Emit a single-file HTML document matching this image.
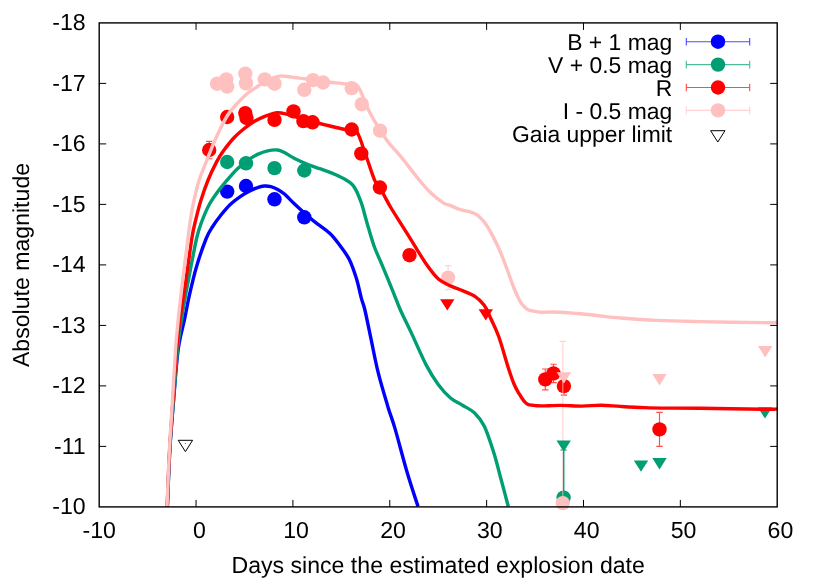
<!DOCTYPE html>
<html><head><meta charset="utf-8"><title>Light curves</title>
<style>html,body{margin:0;padding:0;background:#fff}body{width:830px;height:581px;overflow:hidden;font-family:"Liberation Sans",sans-serif}</style>
</head><body>
<svg width="830" height="581" viewBox="0 0 830 581" style="display:block;will-change:transform">
<rect width="830" height="581" fill="#ffffff"/>
<defs><clipPath id="c"><rect x="99.2" y="22.9" width="678.0" height="485.0"/></clipPath></defs>
<path d="M196.06,506.90 v-7 M196.06,22.90 v7 M292.91,506.90 v-7 M292.91,22.90 v7 M389.77,506.90 v-7 M389.77,22.90 v7 M486.63,506.90 v-7 M486.63,22.90 v7 M583.49,506.90 v-7 M583.49,22.90 v7 M680.34,506.90 v-7 M680.34,22.90 v7 M99.20,83.40 h7 M777.20,83.40 h-7 M99.20,143.90 h7 M777.20,143.90 h-7 M99.20,204.40 h7 M777.20,204.40 h-7 M99.20,264.90 h7 M777.20,264.90 h-7 M99.20,325.40 h7 M777.20,325.40 h-7 M99.20,385.90 h7 M777.20,385.90 h-7 M99.20,446.40 h7 M777.20,446.40 h-7" stroke="#000" stroke-width="1.0" fill="none"/>
<g font-family="'Liberation Sans', sans-serif" font-size="23.10px" fill="#000" text-rendering="geometricPrecision">
<text x="99.2" y="537.6" text-anchor="middle">-10</text>
<text x="199.3" y="537.6" text-anchor="middle">0</text>
<text x="296.1" y="537.6" text-anchor="middle">10</text>
<text x="393.0" y="537.6" text-anchor="middle">20</text>
<text x="489.8" y="537.6" text-anchor="middle">30</text>
<text x="586.7" y="537.6" text-anchor="middle">40</text>
<text x="683.5" y="537.6" text-anchor="middle">50</text>
<text x="780.4" y="537.6" text-anchor="middle">60</text>
<text x="85.7" y="30.2" text-anchor="end">-18</text>
<text x="85.7" y="90.7" text-anchor="end">-17</text>
<text x="85.7" y="151.2" text-anchor="end">-16</text>
<text x="85.7" y="211.7" text-anchor="end">-15</text>
<text x="85.7" y="272.2" text-anchor="end">-14</text>
<text x="85.7" y="332.7" text-anchor="end">-13</text>
<text x="85.7" y="393.2" text-anchor="end">-12</text>
<text x="85.7" y="453.7" text-anchor="end">-11</text>
<text x="85.7" y="514.2" text-anchor="end">-10</text>
<text x="438.2" y="572.6" text-anchor="middle">Days since the estimated explosion date</text>
<text transform="translate(29.2,265.0) rotate(-90)" text-anchor="middle">Absolute magnitude</text>
<text x="672.2" y="49.9" text-anchor="end" font-size="22.9px">B + 1 mag</text>
<text x="672.2" y="72.8" text-anchor="end" font-size="22.9px">V + 0.5 mag</text>
<text x="672.2" y="95.7" text-anchor="end" font-size="22.9px">R</text>
<text x="672.2" y="118.6" text-anchor="end" font-size="22.9px">I - 0.5 mag</text>
<text x="672.2" y="142.1" text-anchor="end" font-size="22.9px">Gaia upper limit</text>
</g>
<path d="M686.3,41.7 H749.7 M686.3,37.9 v7.6 M749.7,37.9 v7.6" stroke="#0000ff" stroke-width="1.15" stroke-opacity="0.7" fill="none"/>
<circle cx="718.0" cy="41.7" r="7.2" fill="#0000ff"/>
<path d="M686.3,64.6 H749.7 M686.3,60.8 v7.6 M749.7,60.8 v7.6" stroke="#009e73" stroke-width="1.15" stroke-opacity="0.7" fill="none"/>
<circle cx="718.0" cy="64.6" r="7.2" fill="#009e73"/>
<path d="M686.3,87.5 H749.7 M686.3,83.7 v7.6 M749.7,83.7 v7.6" stroke="#ff0000" stroke-width="1.15" stroke-opacity="0.7" fill="none"/>
<circle cx="718.0" cy="87.5" r="7.2" fill="#ff0000"/>
<path d="M686.3,110.4 H749.7 M686.3,106.6 v7.6 M749.7,106.6 v7.6" stroke="#ffc0c0" stroke-width="1.15" stroke-opacity="0.7" fill="none"/>
<circle cx="718.0" cy="110.4" r="7.2" fill="#ffc0c0"/>
<polygon points="710.6,130.7 725.0,130.7 717.8,142.0" fill="none" stroke="#000" stroke-width="1"/>
<g clip-path="url(#c)">
<circle cx="227.2" cy="191.6" r="7.2" fill="#0000ff"/>
<circle cx="246.0" cy="186.0" r="7.2" fill="#0000ff"/>
<circle cx="274.5" cy="199.3" r="7.2" fill="#0000ff"/>
<circle cx="304.3" cy="217.3" r="7.2" fill="#0000ff"/>
<circle cx="227.2" cy="162.0" r="7.2" fill="#009e73"/>
<circle cx="246.0" cy="163.3" r="7.2" fill="#009e73"/>
<circle cx="274.5" cy="168.1" r="7.2" fill="#009e73"/>
<circle cx="304.3" cy="170.5" r="7.2" fill="#009e73"/>
<path d="M563.6,450.0 V497.6 M560.4,450.0 H566.8" stroke="#009e73" stroke-width="1.45" stroke-opacity="0.7" fill="none"/>
<circle cx="563.6" cy="497.6" r="7.2" fill="#009e73"/>
<path d="M209.2,141.3 V158.7 M206.0,141.3 H212.4 M206.0,158.7 H212.4" stroke="#ff0000" stroke-width="1.15" stroke-opacity="0.7" fill="none"/>
<circle cx="209.2" cy="150.0" r="7.2" fill="#ff0000"/>
<circle cx="227.2" cy="117.0" r="7.2" fill="#ff0000"/>
<circle cx="245.3" cy="113.1" r="7.2" fill="#ff0000"/>
<circle cx="246.5" cy="118.0" r="7.2" fill="#ff0000"/>
<circle cx="274.5" cy="119.9" r="7.2" fill="#ff0000"/>
<circle cx="293.5" cy="111.4" r="7.2" fill="#ff0000"/>
<circle cx="303.4" cy="121.1" r="7.2" fill="#ff0000"/>
<circle cx="312.5" cy="122.3" r="7.2" fill="#ff0000"/>
<circle cx="351.7" cy="129.5" r="7.2" fill="#ff0000"/>
<circle cx="361.3" cy="153.6" r="7.2" fill="#ff0000"/>
<circle cx="379.9" cy="187.5" r="7.2" fill="#ff0000"/>
<circle cx="409.5" cy="255.2" r="7.2" fill="#ff0000"/>
<path d="M545.3,369.0 V389.8 M542.1,369.0 H548.5 M542.1,389.8 H548.5" stroke="#ff0000" stroke-width="1.15" stroke-opacity="0.7" fill="none"/>
<circle cx="545.3" cy="379.4" r="7.2" fill="#ff0000"/>
<path d="M553.5,364.2 V382.6 M550.3,364.2 H556.7 M550.3,382.6 H556.7" stroke="#ff0000" stroke-width="1.15" stroke-opacity="0.7" fill="none"/>
<circle cx="553.5" cy="373.4" r="7.2" fill="#ff0000"/>
<path d="M563.9,377.1 V395.1 M560.7,377.1 H567.1 M560.7,395.1 H567.1" stroke="#ff0000" stroke-width="1.15" stroke-opacity="0.7" fill="none"/>
<circle cx="563.9" cy="386.1" r="7.2" fill="#ff0000"/>
<path d="M659.5,412.4 V446.4 M656.3,412.4 H662.7 M656.3,446.4 H662.7" stroke="#ff0000" stroke-width="1.15" stroke-opacity="0.7" fill="none"/>
<circle cx="659.5" cy="429.4" r="7.2" fill="#ff0000"/>
<circle cx="217.1" cy="83.7" r="7.2" fill="#ffc0c0"/>
<circle cx="226.3" cy="79.4" r="7.2" fill="#ffc0c0"/>
<circle cx="227.2" cy="86.6" r="7.2" fill="#ffc0c0"/>
<circle cx="245.3" cy="73.6" r="7.2" fill="#ffc0c0"/>
<circle cx="246.0" cy="83.3" r="7.2" fill="#ffc0c0"/>
<circle cx="264.8" cy="79.4" r="7.2" fill="#ffc0c0"/>
<circle cx="274.5" cy="83.7" r="7.2" fill="#ffc0c0"/>
<circle cx="304.3" cy="89.8" r="7.2" fill="#ffc0c0"/>
<circle cx="313.0" cy="80.1" r="7.2" fill="#ffc0c0"/>
<circle cx="323.1" cy="82.5" r="7.2" fill="#ffc0c0"/>
<circle cx="351.7" cy="88.1" r="7.2" fill="#ffc0c0"/>
<circle cx="361.8" cy="104.2" r="7.2" fill="#ffc0c0"/>
<circle cx="380.1" cy="130.7" r="7.2" fill="#ffc0c0"/>
<path d="M448.1,265.6 V289.6 M444.9,265.6 H451.3 M444.9,289.6 H451.3" stroke="#ffc0c0" stroke-width="1.15" stroke-opacity="0.7" fill="none"/>
<circle cx="448.1" cy="277.6" r="7.2" fill="#ffc0c0"/>
<path d="M562.8,341.4 V503.1 M559.6,341.4 H566.0" stroke="#ffc0c0" stroke-width="1.15" stroke-opacity="0.7" fill="none"/>
</g>
<circle cx="562.8" cy="503.1" r="7.2" fill="#ffc0c0"/>
<polygon points="556.5,440.4 570.9,440.4 563.7,451.7" fill="#009e73"/>
<polygon points="633.8,460.5 648.2,460.5 641.0,471.8" fill="#009e73"/>
<polygon points="652.3,458.1 666.7,458.1 659.5,469.4" fill="#009e73"/>
<polygon points="757.8,407.3 772.2,407.3 765.0,418.6" fill="#009e73"/>
<path d="M563.7,450 V491.5" stroke="#009e73" stroke-width="1.15" fill="none"/>
<polygon points="440.1,299.3 454.5,299.3 447.3,310.6" fill="#ff0000"/>
<polygon points="478.6,309.2 493.0,309.2 485.8,320.5" fill="#ff0000"/>
<polygon points="556.7,372.2 571.1,372.2 563.9,383.5" fill="#ffc0c0"/>
<polygon points="652.3,374.1 666.7,374.1 659.5,385.4" fill="#ffc0c0"/>
<polygon points="758.0,346.1 772.4,346.1 765.2,357.4" fill="#ffc0c0"/>
<polygon points="178.2,440.3 192.6,440.3 185.4,451.6" fill="none" stroke="#000" stroke-width="1"/>
<rect x="184.9" y="443.0" width="1" height="1" fill="#000" opacity="0.6"/>
<g clip-path="url(#c)" fill="none" stroke-width="3.4" stroke-linejoin="round" stroke-linecap="butt">
<path d="M167.4,506.5 C167.8,497.1 168.8,467.8 169.8,450.0 C170.8,432.2 172.2,416.7 173.6,400.0 C175.0,383.3 176.3,363.3 178.1,350.0 C179.9,336.7 182.5,329.1 184.4,320.0 C186.3,310.9 187.3,304.6 189.3,295.7 C191.3,286.8 193.7,276.2 196.5,266.7 C199.3,257.2 203.5,245.2 206.2,238.5 C208.9,231.8 210.2,230.4 212.7,226.5 C215.2,222.6 218.0,218.7 221.0,215.0 C224.0,211.3 227.2,207.4 230.5,204.3 C233.8,201.2 237.2,198.6 240.6,196.3 C244.0,194.0 247.9,191.9 250.7,190.5 C253.5,189.1 255.2,188.3 257.5,187.6 C259.8,186.8 262.0,186.2 264.2,186.0 C266.4,185.8 268.6,186.0 270.9,186.6 C273.1,187.2 275.4,188.2 277.7,189.4 C279.9,190.6 281.6,191.6 284.4,194.0 C287.2,196.4 291.2,200.9 294.6,204.1 C298.0,207.3 301.3,210.4 304.7,213.4 C308.1,216.4 310.6,218.5 314.8,221.8 C319.0,225.2 325.9,229.6 330.0,233.5 C334.1,237.4 336.4,240.8 339.6,245.1 C342.8,249.4 346.5,253.9 349.3,259.5 C352.1,265.1 354.5,272.4 356.5,278.8 C358.5,285.2 359.9,292.9 361.3,298.1 C362.7,303.3 363.3,303.2 364.9,310.0 C366.5,316.8 368.8,328.4 371.0,338.9 C373.2,349.3 375.4,361.4 378.2,372.7 C381.0,383.9 385.0,397.0 387.8,406.4 C390.6,415.8 391.9,417.9 395.1,428.9 C398.3,439.9 403.3,459.4 407.1,472.3 C410.9,485.2 416.2,500.8 418.0,506.5" stroke="#0000ff"/>
<path d="M167.3,506.5 C167.7,497.1 168.8,467.8 169.8,450.0 C170.8,432.2 172.2,416.7 173.5,400.0 C174.8,383.3 176.2,363.3 177.5,350.0 C178.8,336.7 179.6,331.5 181.4,320.0 C183.2,308.5 185.6,294.9 188.2,281.2 C190.8,267.5 194.4,247.9 196.7,238.0 C199.0,228.1 199.8,226.8 201.8,221.5 C203.8,216.2 206.0,210.8 208.5,206.0 C211.0,201.2 213.9,197.1 217.0,192.8 C220.1,188.5 223.7,184.2 227.1,180.2 C230.5,176.2 233.8,172.3 237.2,169.0 C240.6,165.7 243.9,163.0 247.3,160.6 C250.7,158.2 254.1,156.0 257.5,154.4 C260.9,152.8 264.2,151.5 267.6,150.8 C271.0,150.1 274.9,149.7 277.7,150.0 C280.5,150.3 281.6,151.2 284.4,152.6 C287.2,154.0 290.7,156.5 294.6,158.5 C298.5,160.5 303.8,162.8 308.0,164.5 C312.2,166.2 316.1,167.4 319.8,168.7 C323.5,170.0 327.1,171.2 330.0,172.3 C332.9,173.4 334.3,174.1 336.9,175.3 C339.4,176.5 342.9,178.1 345.3,179.5 C347.7,180.9 349.5,182.0 351.2,183.6 C352.9,185.2 354.1,186.9 355.4,189.0 C356.7,191.1 357.7,193.6 358.8,196.4 C359.9,199.2 361.1,202.1 362.2,205.6 C363.3,209.1 364.4,213.6 365.5,217.5 C366.6,221.4 367.3,224.2 368.9,229.3 C370.4,234.4 372.6,242.2 374.8,248.0 C377.0,253.8 378.8,257.2 381.8,264.3 C384.8,271.4 389.6,283.2 392.7,290.8 C395.8,298.4 397.2,302.8 400.4,310.0 C403.6,317.2 407.6,324.9 411.9,334.1 C416.2,343.3 422.0,357.0 426.4,365.4 C430.8,373.8 434.4,379.3 438.4,384.7 C442.4,390.1 446.5,394.6 450.5,398.0 C454.5,401.4 458.5,402.7 462.5,405.2 C466.5,407.7 471.0,409.5 474.6,413.0 C478.2,416.5 481.0,419.3 484.2,426.0 C487.4,432.7 491.1,444.1 493.9,453.0 C496.7,461.9 498.7,470.6 501.1,479.5 C503.5,488.4 507.1,502.0 508.3,506.5" stroke="#009e73"/>
<path d="M167.2,506.5 C167.6,497.1 168.6,467.8 169.6,450.0 C170.6,432.2 171.8,416.7 173.0,400.0 C174.2,383.3 175.4,363.3 176.5,350.0 C177.6,336.7 178.2,331.5 179.8,320.0 C181.4,308.5 183.8,294.9 185.8,281.2 C187.8,267.5 190.3,248.1 191.9,238.0 C193.5,227.9 194.0,227.1 195.5,220.9 C197.0,214.7 198.7,207.4 200.8,200.7 C202.9,194.0 205.3,187.0 207.9,180.5 C210.5,174.0 214.0,166.9 216.6,161.9 C219.2,156.9 220.8,154.6 223.7,150.6 C226.6,146.6 230.4,141.6 233.8,138.0 C237.2,134.4 240.6,131.6 244.0,128.8 C247.4,126.1 250.7,123.5 254.1,121.5 C257.5,119.5 260.8,118.0 264.2,116.6 C267.6,115.2 272.1,113.8 274.3,113.2 C276.6,112.6 276.0,112.6 277.7,112.7 C279.4,112.8 282.1,113.1 284.4,113.6 C286.6,114.1 287.8,114.5 291.2,115.5 C294.6,116.5 300.2,118.4 305.0,119.7 C309.8,121.0 315.6,122.5 319.8,123.5 C324.0,124.5 325.1,124.8 330.0,126.0 C334.9,127.2 344.8,129.4 349.3,130.4 C353.8,131.4 354.2,127.6 357.0,131.9 C359.8,136.2 363.2,148.0 366.1,156.0 C369.0,164.0 372.3,174.8 374.6,180.1 C376.9,185.4 377.3,183.3 379.9,187.7 C382.5,192.1 386.5,200.2 390.2,206.5 C393.9,212.8 398.3,219.4 402.3,225.8 C406.3,232.2 410.3,238.7 414.3,245.1 C418.3,251.5 422.4,258.6 426.4,264.3 C430.4,270.0 434.4,275.5 438.4,279.1 C442.4,282.7 446.5,284.0 450.5,285.9 C454.5,287.8 458.5,288.9 462.5,290.6 C466.5,292.3 471.0,293.8 474.6,296.2 C478.2,298.6 481.6,301.8 484.2,305.3 C486.8,308.8 487.8,312.0 490.2,317.2 C492.6,322.4 495.7,328.1 498.7,336.5 C501.7,344.9 505.8,359.9 508.3,367.8 C510.9,375.7 512.2,379.7 514.0,384.0 C515.8,388.3 517.4,390.8 519.1,393.7 C520.8,396.6 522.8,399.6 524.2,401.3 C525.6,403.1 526.2,403.5 527.6,404.2 C529.0,404.9 530.4,405.0 532.6,405.3 C534.9,405.6 536.5,405.9 541.1,405.9 C545.7,405.9 553.4,405.4 560.2,405.4 C567.0,405.4 575.1,406.1 581.9,406.1 C588.7,406.1 594.8,405.1 601.2,405.2 C607.6,405.2 613.3,406.0 620.5,406.4 C627.7,406.8 636.6,407.3 644.6,407.6 C652.6,407.9 659.5,408.0 668.7,408.1 C677.9,408.2 684.0,408.1 700.0,408.3 C716.0,408.5 752.2,409.2 765.0,409.3 C777.8,409.4 775.0,409.1 777.0,409.0" stroke="#ff0000"/>
<path d="M167.0,506.5 C167.4,497.1 168.5,467.8 169.4,450.0 C170.3,432.2 171.5,416.7 172.5,400.0 C173.5,383.3 174.6,363.3 175.5,350.0 C176.4,336.7 177.1,331.1 178.2,320.0 C179.3,308.9 181.0,294.7 182.3,283.4 C183.6,272.1 184.9,262.8 186.2,252.4 C187.5,242.1 188.9,229.9 190.2,221.3 C191.5,212.7 192.4,207.6 193.9,200.7 C195.4,193.8 197.0,186.8 199.2,180.0 C201.4,173.2 204.2,166.9 206.9,160.2 C209.6,153.4 211.9,146.9 215.3,139.5 C218.7,132.1 223.4,122.0 227.1,116.0 C230.8,110.0 233.8,107.2 237.2,103.5 C240.6,99.8 243.9,96.3 247.3,93.5 C250.7,90.7 254.4,88.6 257.5,86.5 C260.6,84.4 263.2,82.5 266.0,81.0 C268.8,79.5 272.1,78.1 274.3,77.3 C276.6,76.5 277.8,76.3 279.5,76.1 C281.2,75.9 281.9,76.0 284.4,76.2 C286.9,76.4 290.9,77.0 294.6,77.5 C298.3,78.0 302.5,78.4 306.4,79.0 C310.3,79.6 314.1,80.5 318.0,81.0 C321.9,81.5 325.2,81.8 330.0,82.3 C334.8,82.8 342.3,83.4 346.9,84.0 C351.5,84.6 354.1,81.7 357.7,86.1 C361.3,90.5 365.2,103.4 368.6,110.2 C372.0,117.0 375.0,121.9 378.2,127.1 C381.4,132.3 383.8,136.4 387.8,141.6 C391.8,146.8 397.1,152.0 402.3,158.4 C407.5,164.8 414.4,174.2 419.2,180.0 C424.0,185.8 427.2,189.5 431.2,193.3 C435.2,197.1 440.2,200.9 443.3,202.9 C446.4,204.9 447.2,204.2 450.0,205.3 C452.8,206.4 456.7,208.4 460.1,209.5 C463.5,210.6 467.4,211.0 470.2,211.9 C473.0,212.8 474.8,213.2 477.0,214.8 C479.2,216.4 481.7,219.0 483.7,221.3 C485.7,223.7 487.0,225.8 488.8,228.9 C490.6,232.0 492.7,236.0 494.7,239.9 C496.7,243.8 498.5,247.5 500.6,252.5 C502.7,257.5 505.1,264.0 507.3,270.0 C509.6,276.0 512.0,283.3 514.1,288.5 C516.2,293.7 518.3,298.1 520.0,301.2 C521.7,304.2 523.2,305.4 524.5,306.8 C525.8,308.2 526.4,308.9 527.6,309.6 C528.9,310.3 529.8,310.4 532.0,310.8 C534.2,311.2 536.4,312.0 541.0,312.2 C545.6,312.4 551.4,311.8 559.6,312.2 C567.8,312.6 579.9,313.7 590.0,314.7 C600.1,315.7 609.4,317.1 620.5,318.0 C631.6,318.9 643.4,319.8 656.6,320.4 C669.9,321.0 681.4,321.2 700.0,321.6 C718.6,322.0 755.2,322.7 768.0,322.7 C780.8,322.7 775.5,321.9 777.0,321.7" stroke="#ffc0c0"/>
</g>
<rect x="99.2" y="22.9" width="678.0" height="484.0" fill="none" stroke="#000" stroke-width="1.4"/>
</svg>
</body></html>
